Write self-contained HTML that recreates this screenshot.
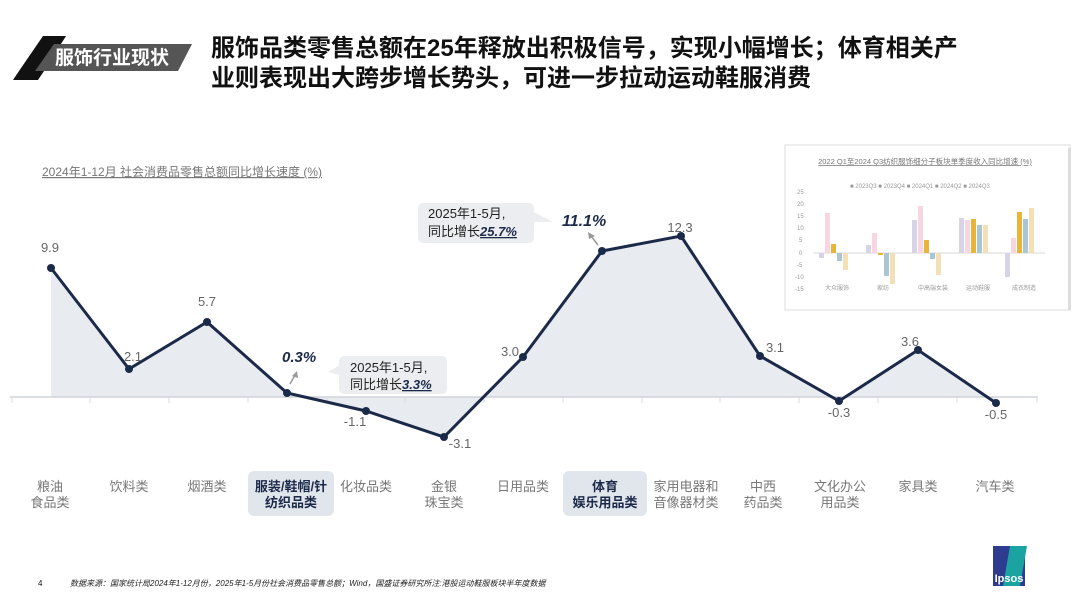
<!DOCTYPE html>
<html><head><meta charset="utf-8"><style>
body{margin:0;width:1080px;height:608px;background:#fff;overflow:hidden;font-family:"Liberation Sans","Noto Sans CJK SC",sans-serif;}
svg text{font-family:"Liberation Sans","Noto Sans CJK SC",sans-serif;}
</style></head><body>
<svg width="1080" height="608" viewBox="0 0 1080 608" xmlns="http://www.w3.org/2000/svg">
<polygon points="19,71 43,36 66,36 44,71" fill="#111"/>
<polygon points="54,44 192,44 178,71 35,71 " fill="#555"/>
<polygon points="19,71 44,71 38,80 13,80" fill="#111"/>
<text x="112" y="64" font-size="19" font-weight="bold" fill="#fff" text-anchor="middle">服饰行业现状</text>
<text x="211" y="56" font-size="24" font-weight="bold" fill="#111">服饰品类零售总额在25年释放出积极信号，实现小幅增长；体育相关产</text>
<text x="211" y="86" font-size="24" font-weight="bold" fill="#111">业则表现出大跨步增长势头，可进一步拉动运动鞋服消费</text>
<text x="42" y="176" font-size="12" fill="#777" text-decoration="underline">2024年1-12月 社会消费品零售总额同比增长速度 (%)</text>
<polygon fill="#e8ebf0" points="51,397 51,268 129,369 207,322 287,393 366,411 444,437 523,357 602,251 681,236 760,356 839,401 918,350 996,403 996,397"/>
<line x1="10" y1="397" x2="1038" y2="397" stroke="#cfd3d9" stroke-width="1.5"/>
<g stroke="#d8dbe0" stroke-width="1">
<line x1="12" y1="397" x2="12" y2="403"/><line x1="90" y1="397" x2="90" y2="403"/><line x1="169" y1="397" x2="169" y2="403"/><line x1="248" y1="397" x2="248" y2="403"/><line x1="327" y1="397" x2="327" y2="403"/><line x1="405" y1="397" x2="405" y2="403"/><line x1="484" y1="397" x2="484" y2="403"/><line x1="563" y1="397" x2="563" y2="403"/><line x1="642" y1="397" x2="642" y2="403"/><line x1="720" y1="397" x2="720" y2="403"/><line x1="799" y1="397" x2="799" y2="403"/><line x1="878" y1="397" x2="878" y2="403"/><line x1="957" y1="397" x2="957" y2="403"/><line x1="1037" y1="397" x2="1037" y2="403"/>
</g>
<polyline fill="none" stroke="#1c2a4a" stroke-width="3" points="51,268 129,369 207,322 287,393 366,411 444,437 523,357 602,251 681,236 760,356 839,401 918,350 996,403"/>
<g fill="#1c2a4a">
<circle cx="51" cy="268" r="4"/><circle cx="129" cy="369" r="4"/><circle cx="207" cy="322" r="4"/><circle cx="287" cy="393" r="4"/><circle cx="366" cy="411" r="4"/><circle cx="444" cy="437" r="4"/><circle cx="523" cy="357" r="4"/><circle cx="602" cy="251" r="4"/><circle cx="681" cy="236" r="4"/><circle cx="760" cy="356" r="4"/><circle cx="839" cy="401" r="4"/><circle cx="918" cy="350" r="4"/><circle cx="996" cy="403" r="4"/>
</g>
<g font-size="13" fill="#666" text-anchor="middle">
<text x="50" y="252">9.9</text><text x="133" y="361">2.1</text><text x="207" y="306">5.7</text>
<text x="355" y="426">-1.1</text><text x="460" y="448">-3.1</text><text x="510" y="356">3.0</text>
<text x="680" y="232">12.3</text><text x="775" y="352">3.1</text><text x="839" y="417">-0.3</text>
<text x="910" y="346">3.6</text><text x="996" y="419">-0.5</text>
</g>
<rect x="418" y="203" width="116" height="40" rx="5" fill="#ebedf0"/>
<polygon points="530,210 553,222 530,222" fill="#ebedf0"/>
<text x="428" y="218" font-size="13" fill="#222">2025年1-5月,</text>
<text x="428" y="236" font-size="13" fill="#222">同比增长<tspan font-style="italic" font-weight="bold" fill="#1c2a4a" text-decoration="underline">25.7%</tspan></text>
<text x="562" y="226" font-size="16" font-style="italic" font-weight="bold" fill="#1c2a4a">11.1%</text>
<line x1="598" y1="245" x2="591" y2="236" stroke="#999" stroke-width="1.5"/>
<polygon points="588,232 595,236 589,239" fill="#999"/>
<rect x="339" y="356" width="108" height="38" rx="5" fill="#ebedf0"/>
<polygon points="340,365 328,372 340,375" fill="#ebedf0"/>
<text x="350" y="372" font-size="13" fill="#222">2025年1-5月,</text>
<text x="350" y="389" font-size="13" fill="#222">同比增长<tspan font-style="italic" font-weight="bold" fill="#1c2a4a" text-decoration="underline">3.3%</tspan></text>
<text x="282" y="362" font-size="15" font-style="italic" font-weight="bold" fill="#1c2a4a">0.3%</text>
<line x1="290" y1="384" x2="295" y2="375" stroke="#999" stroke-width="1.5"/>
<polygon points="297,371 298,378 292,376" fill="#999"/>
<rect x="248" y="471" width="86" height="45" rx="6" fill="#e1e5ec"/>
<rect x="563" y="471" width="84" height="45" rx="6" fill="#e1e5ec"/>
<g font-size="13" fill="#777" text-anchor="middle">
<text x="50" y="491">粮油</text><text x="50" y="507">食品类</text>
<text x="129" y="491">饮料类</text><text x="207" y="491">烟酒类</text>
<text x="366" y="491">化妆品类</text>
<text x="444" y="491">金银</text><text x="444" y="507">珠宝类</text>
<text x="523" y="491">日用品类</text>
<text x="686" y="491">家用电器和</text><text x="686" y="507">音像器材类</text>
<text x="763" y="491">中西</text><text x="763" y="507">药品类</text>
<text x="840" y="491">文化办公</text><text x="840" y="507">用品类</text>
<text x="918" y="491">家具类</text><text x="995" y="491">汽车类</text>
</g>
<g font-size="13" fill="#1c2a4a" font-weight="bold" text-anchor="middle">
<text x="291" y="491">服装/鞋帽/针</text><text x="291" y="507">纺织品类</text>
<text x="605" y="491">体育</text><text x="605" y="507">娱乐用品类</text>
</g>
<text x="38" y="586" font-size="8" fill="#111">4</text>
<text x="70" y="586" font-size="8" font-style="italic" fill="#222">数据来源：国家统计局2024年1-12月份，2025年1-5月份社会消费品零售总额；Wind，国盛证券研究所注:港股运动鞋服板块半年度数据</text>
<polygon points="993,546 1025,546 1025,586 993,586" fill="#2d3c8f"/>
<polygon points="1010,546 1027,546 1020,586 1003,586" fill="#1aa3a0"/>
<text x="1009" y="582" font-size="11" font-weight="bold" fill="#fff" text-anchor="middle">Ipsos</text>
<rect x="785" y="145" width="285" height="165" fill="#fff" stroke="#ddd"/>
<rect x="1068" y="148" width="3" height="162" fill="#ddd"/>
<text x="925" y="164" font-size="7.5" fill="#777" text-anchor="middle" text-decoration="underline">2022 Q1至2024 Q3纺织服饰细分子板块单季度收入同比增速 (%)</text>
<g font-size="6" fill="#999">
<text x="850" y="188">■ 2023Q3  ■ 2023Q4  ■ 2024Q1  ■ 2024Q2  ■ 2024Q3</text>
<text x="797" y="194">25</text><text x="797" y="206">20</text><text x="797" y="218">15</text><text x="797" y="230">10</text><text x="799" y="242">5</text><text x="799" y="255">0</text><text x="797" y="267">-5</text><text x="795" y="279">-10</text><text x="795" y="291">-15</text>
<text x="825" y="290">大众服饰</text><text x="877" y="290">家纺</text><text x="918" y="290">中高端女装</text><text x="966" y="290">运动鞋服</text><text x="1012" y="290">成衣制造</text>
</g>
<line x1="813" y1="253" x2="1045" y2="253" stroke="#ccc" stroke-width="0.8"/>
<g>
<rect x="819" y="253" width="5" height="5" fill="#d9d3e6"/><rect x="825" y="213" width="5" height="40" fill="#f7d6e2"/><rect x="831" y="244" width="5" height="9" fill="#e8b43a"/><rect x="837" y="253" width="5" height="8" fill="#a9c6d2"/><rect x="843" y="253" width="5" height="17" fill="#f3e0b6"/>
<rect x="866" y="245" width="5" height="8" fill="#d9d3e6"/><rect x="872" y="233" width="5" height="20" fill="#f7d6e2"/><rect x="878" y="253" width="5" height="2" fill="#e8b43a"/><rect x="884" y="253" width="5" height="23" fill="#a9c6d2"/><rect x="890" y="253" width="5" height="31" fill="#f3e0b6"/>
<rect x="912" y="220" width="5" height="33" fill="#d9d3e6"/><rect x="918" y="206" width="5" height="47" fill="#f7d6e2"/><rect x="924" y="240" width="5" height="13" fill="#e8b43a"/><rect x="930" y="253" width="5" height="6" fill="#a9c6d2"/><rect x="936" y="253" width="5" height="22" fill="#f3e0b6"/>
<rect x="959" y="218" width="5" height="35" fill="#d9d3e6"/><rect x="965" y="220" width="5" height="33" fill="#f7d6e2"/><rect x="971" y="219" width="5" height="34" fill="#e8b43a"/><rect x="977" y="225" width="5" height="28" fill="#a9c6d2"/><rect x="983" y="225" width="5" height="28" fill="#f3e0b6"/>
<rect x="1005" y="253" width="5" height="24" fill="#d9d3e6"/><rect x="1011" y="238" width="5" height="15" fill="#f7d6e2"/><rect x="1017" y="212" width="5" height="41" fill="#e8b43a"/><rect x="1023" y="219" width="5" height="34" fill="#a9c6d2"/><rect x="1029" y="208" width="5" height="45" fill="#f3e0b6"/>
</g>
</svg>
</body></html>
